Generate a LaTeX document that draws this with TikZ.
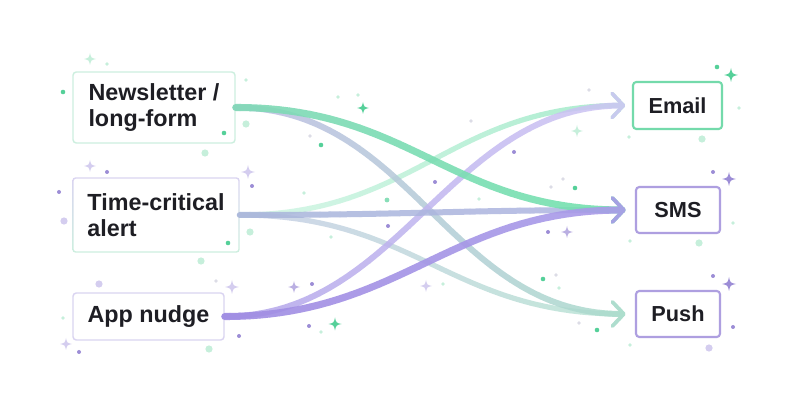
\documentclass[tikz,border=0pt]{standalone}
\usepackage{fontspec}
\setmainfont{Liberation Sans}
\usetikzlibrary{arrows.meta,backgrounds}
\definecolor{ink}{HTML}{1E1E24}
\definecolor{gBox}{HTML}{74DAAB}
\definecolor{gSoft}{HTML}{CDEFDF}
\definecolor{gDot}{HTML}{55D099}
\definecolor{gFaint}{HTML}{C6EFDB}
\definecolor{pBox}{HTML}{AE9FE0}
\definecolor{pSoft}{HTML}{DAD4F1}
\definecolor{pDot}{HTML}{9C8DD6}
\definecolor{pFaint}{HTML}{D4CDEF}
\definecolor{grayFaint}{HTML}{DCDCE6}
% connector colours (start / end)
\definecolor{teA}{HTML}{D6F6E7}\definecolor{teB}{HTML}{A3EBCA}
\definecolor{tpA}{HTML}{C8CEE6}\definecolor{tpB}{HTML}{B8E5D3}
\definecolor{npA}{HTML}{BCBAE3}\definecolor{npB}{HTML}{AADDCB}
\definecolor{aeA}{HTML}{B2A4EA}\definecolor{aeB}{HTML}{CEC6F4}
\definecolor{tsA}{HTML}{A8B5DA}\definecolor{tsB}{HTML}{AEB4E2}
\definecolor{nsA}{HTML}{80D9B6}\definecolor{nsB}{HTML}{74E1AF}
\definecolor{asA}{HTML}{9F8CE3}\definecolor{asB}{HTML}{AA9CE9}
\newcommand\mysparkle[4]{\fill[#4] (#1,#2-#3) .. controls (#1+0.18*#3,#2-0.18*#3) .. (#1+#3,#2) .. controls (#1+0.18*#3,#2+0.18*#3) .. (#1,#2+#3) .. controls (#1-0.18*#3,#2+0.18*#3) .. (#1-#3,#2) .. controls (#1-0.18*#3,#2-0.18*#3) .. cycle;}
\newcommand\gradedge[6]{%
  \begin{scope}[transparency group, opacity=#6]
  \foreach \sx in {210,220,...,640}{
    \pgfmathsetmacro\pp{max(0,min(100,(\sx+5-235)/3.93))}
    \colorlet{segc}{#4!\pp!#3}
    \begin{scope}
      \clip (\sx-0.4,0) rectangle (\sx+10.4,420);
      \draw[flowline, line width=#5, draw=segc] (#1) .. controls +(175,0) and +(-175,0) .. (#2);
    \end{scope}
  }
  \end{scope}}
\tikzset{
  flowline/.style={line cap=round, -{Straight Barb[round, length=8.5pt, width=18pt, line width=2.7pt]}},
  srcbox/.style={rounded corners=2.5pt, fill=white, line width=1.1pt, align=left, inner sep=0pt,
     font=\fontsize{17.5pt}{19.5pt}\selectfont\bfseries, text=ink},
  dstbox/.style={rounded corners=2.5pt, fill=white, line width=1.6pt, inner sep=0pt,
     font=\fontsize{16.3pt}{19pt}\selectfont\bfseries, text=ink}
}
\begin{document}
\begin{tikzpicture}[x=0.75pt,y=-0.75pt]
\useasboundingbox (0,0) rectangle (800,420);

% boxes
\node[srcbox, draw=gSoft, minimum width=121.5pt, minimum height=53.25pt] (nl) at (154,107.5) {Newsletter /\\long-form};
\node[srcbox, fill=none, minimum width=124.5pt, minimum height=55.5pt] (tc) at (156,215) {Time-critical\\alert};
\node[srcbox, draw=pSoft, minimum width=113.25pt, minimum height=35.25pt] (app) at (148.5,316.5) {App nudge};
\node[dstbox, draw=gBox, minimum width=66.75pt, minimum height=35.25pt] (email) at (677.5,105.5) {Email};
\node[dstbox, draw=pBox, minimum width=63pt, minimum height=34.5pt] (sms) at (678,210) {SMS};
\node[dstbox, draw=pBox, minimum width=63pt, minimum height=34.5pt] (push) at (678,314) {Push};
\begin{scope}[on background layer]
  \fill[white] (0,0) rectangle (800,420);
  \shade[top color=pSoft, bottom color=gSoft, rounded corners=2.5pt] (tc.north west) rectangle (tc.south east);
  \fill[white, rounded corners=1.8pt] ([shift={(1.1pt,-1.1pt)}]tc.north west) rectangle ([shift={(-1.1pt,1.1pt)}]tc.south east);
\end{scope}

\coordinate (tEmail) at ([xshift=-5pt]email.west);
\coordinate (tSMS) at ([xshift=-7pt]sms.west);
\coordinate (tPush) at ([xshift=-7pt]push.west);

% connectors
\gradedge{tc.east}{tEmail}{teA}{teB}{3.9pt}{0.9}
\gradedge{tc.east}{tPush}{tpA}{tpB}{3.9pt}{0.85}
\gradedge{nl.east}{tPush}{npA}{npB}{4.5pt}{0.85}
\gradedge{app.east}{tEmail}{aeA}{aeB}{4.5pt}{0.85}
\gradedge{tc.east}{tSMS}{tsA}{tsB}{4.5pt}{0.85}
\gradedge{nl.east}{tSMS}{nsA}{nsB}{5.3pt}{0.9}
\gradedge{app.east}{tSMS}{asA}{asB}{5.3pt}{0.9}

% dots
\foreach \x/\y in {63/92,224/133,228/243,321/145,575/188,543/279,597/330,717/67}
  \fill[gDot] (\x,\y) circle[radius=2.3];
\foreach \x/\y in {246/124,205/153,250/232,201/261,209/349,702/139,699/243}
  \fill[gFaint] (\x,\y) circle[radius=3.6];
\fill[gDot!70!white] (387,200) circle[radius=2.4];
\foreach \x/\y in {107/64,246/80,63/318,304/193,331/237,321/332,479/199,629/137,739/108,733/223,630/241,443/284,630/345,559/288,338/97,358/95}
  \fill[gFaint] (\x,\y) circle[radius=1.9];
\foreach \x/\y in {107/172,252/186,59/192,312/284,309/326,239/336,79/352,388/226,435/182,514/152,548/232,713/172,713/276,733/327}
  \fill[pDot] (\x,\y) circle[radius=2];
\foreach \x/\y in {64/221,99/284,709/348}
  \fill[pFaint] (\x,\y) circle[radius=3.6];
\foreach \x/\y in {589/90,471/121,551/187,563/179,556/275,579/323,216/281,310/136}
  \fill[grayFaint] (\x,\y) circle[radius=1.9];

% sparkles
\mysparkle{90}{59}{6}{gFaint}
\mysparkle{577}{131}{6}{gFaint}
\mysparkle{363}{108}{6}{gDot}
\mysparkle{335}{324}{6.5}{gDot}
\mysparkle{731}{75}{7}{gDot}
\mysparkle{90}{166}{6}{pFaint}
\mysparkle{248}{172}{7}{pFaint}
\mysparkle{232}{287}{7}{pFaint}
\mysparkle{294}{287}{6}{pDot!70!white}
\mysparkle{66}{344}{6}{pFaint}
\mysparkle{426}{286}{6}{pFaint}
\mysparkle{567}{232}{6}{pDot!70!white}
\mysparkle{729}{179}{7}{pDot}
\mysparkle{729}{284}{7}{pDot}
\end{tikzpicture}
\end{document}
